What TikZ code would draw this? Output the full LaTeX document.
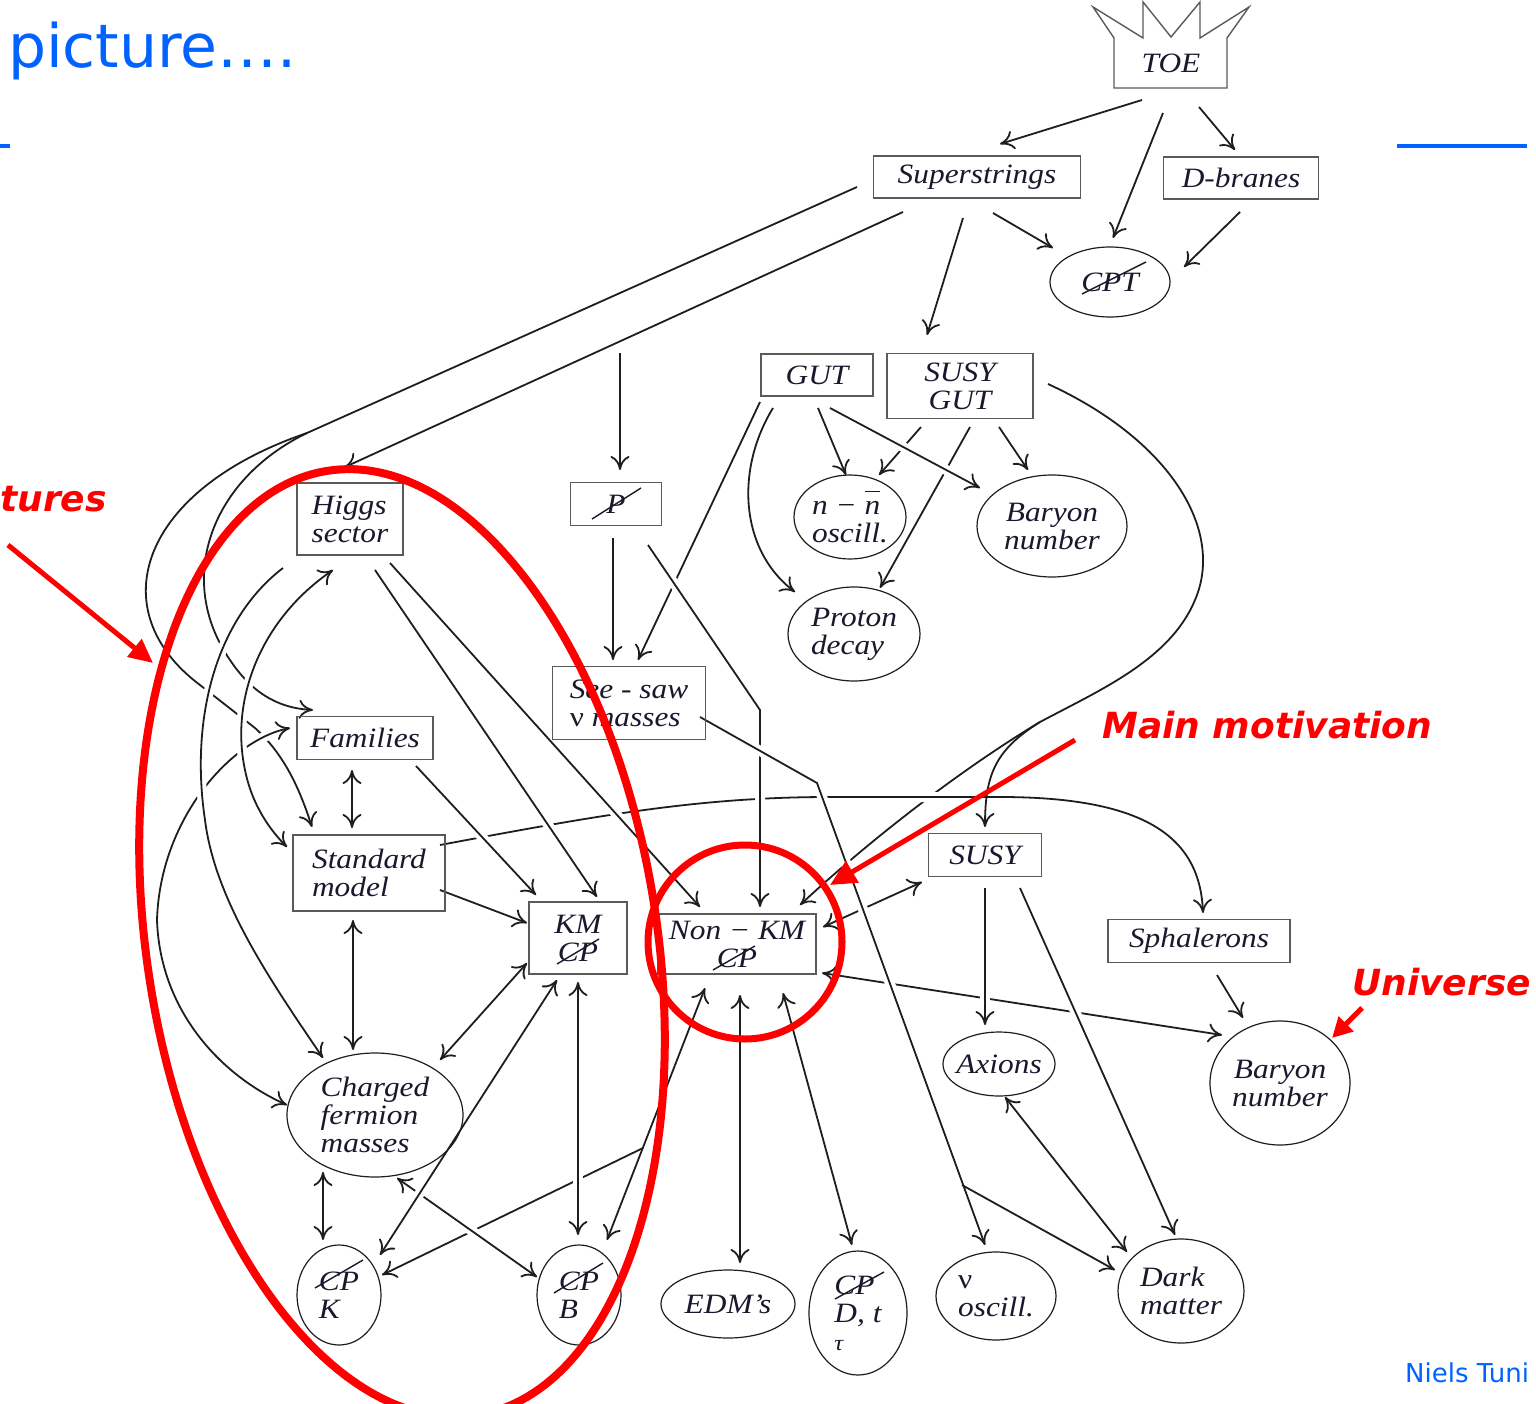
\documentclass[tikz,border=0pt]{standalone}
\usepackage{fontspec}
\usepackage{graphicx}
\newfontfamily\diag{Liberation Serif}[FakeStretch=1.12]
\newfontfamily\vsans{DejaVu Sans}
\usetikzlibrary{arrows.meta,shapes.geometric}
\pgfdeclarelayer{bg}
\pgfdeclarelayer{fg}
\pgfsetlayers{bg,main,fg}
\definecolor{bluec}{RGB}{0,98,255}
\definecolor{redc}{RGB}{255,0,0}
\definecolor{txtc}{RGB}{25,25,45}
\definecolor{boxc}{RGB}{90,90,90}
\definecolor{linec}{RGB}{30,30,30}
\newcommand\dfont{\diag\itshape\fontsize{28}{28}\selectfont}
\newcommand\nbar{\leavevmode\setbox0\hbox{n}\rlap{\raisebox{0.8em}{\rule{\wd0}{1.6pt}}}n}
\newcommand\nd[3]{([shift={(#2,#3)}]#1.center)}
\begin{document}
\begin{tikzpicture}[x=1pt,y=-1pt,
  lbl/.style={font=\dfont, text=txtc, align=left, inner sep=0pt},
  bx/.style={lbl, draw=boxc, line width=1.4pt, rectangle},
  el/.style={lbl, draw=linec, line width=1.2pt, ellipse, inner sep=-20pt},
  con/.style={draw=linec, line width=1.8pt},
  tip/.tip={Computer Modern Rightarrow[length=14pt,width=19pt]},
  arr/.style={con, -tip},
  darr/.style={con, tip-tip},
  hop/.style={preaction={draw=white, line width=10pt, -}},
  slash/.style={draw=txtc, line width=1.4pt},
  redt/.style={font=\vsans\bfseries\itshape\fontsize{36}{36}\selectfont, text=redc, inner sep=0pt, anchor=base west},
  bluet/.style={font=\vsans\fontsize{#1}{#1}\selectfont, text=bluec, inner sep=0pt, anchor=base west},
]
\useasboundingbox (0,0) rectangle (1536,1404);
\begin{pgfonlayer}{bg}
\fill[white] (0,0) rectangle (1536,1404);
\end{pgfonlayer}

% ---------- nodes ----------
\node[lbl] (toe) at (1171,63) {TOE};
\draw[draw=boxc, line width=1.4pt] (1114,88) -- (1114,38) -- (1093,7) -- (1143,38) -- (1143,2) -- (1171,37) -- (1200,2) -- (1200,38) -- (1249,7) -- (1227,38) -- (1227,88) -- cycle;
\node[bx, minimum width=207, minimum height=42] (ss) at (977,177) {Superstrings};
\node[bx, minimum width=155, minimum height=42] (db) at (1241,178) {D-branes};
\node[el, minimum width=120, minimum height=70] (cpt) at (1110,282) {CPT};
\node[bx, minimum width=112, minimum height=42] (gut) at (817,375) {GUT};
\node[bx, align=center, minimum width=146, minimum height=65] (sgut) at (960,386) {SUSY\\GUT};
\node[el, minimum width=112, minimum height=84] (nn) at (850,517) {n − \nbar\\oscill.};
\node[el, align=center, minimum width=150, minimum height=102] (bar1) at (1052,526) {Baryon\\number};
\node[el, minimum width=132, minimum height=94] (prot) at (854,634) {Proton\\decay};
\node[bx, minimum width=91, minimum height=43] (pslash) at (616,504) {P};
\node[bx, minimum width=153, minimum height=73] (seesaw) at (629,703) {See - saw\\{\upshape ν} masses};
\node[bx, minimum width=106, minimum height=72] (higgs) at (350,519) {Higgs\\sector};
\node[bx, minimum width=136, minimum height=43] (fam) at (365,738) {Families};
\node[bx, minimum width=152, minimum height=76] (sm) at (369,873) {Standard\\model};
\node[bx, align=center, minimum width=98, minimum height=72] (km) at (578,938) {KM\\CP};
\node[bx, align=center, minimum width=158, minimum height=60] (nonkm) at (737,944) {Non − KM\\CP};
\node[bx, minimum width=113, minimum height=43] (susy) at (985,855) {SUSY};
\node[bx, minimum width=182, minimum height=43] (sphal) at (1199,941) {Sphalerons};
\node[el, minimum width=176, minimum height=124] (cfm) at (375,1115) {Charged\\fermion\\masses};
\node[el, minimum width=84, minimum height=100] (cpk) at (339,1295) {CP\\K};
\node[el, minimum width=84, minimum height=100] (cpb) at (579,1295) {CP\\B};
\node[el, minimum width=134, minimum height=68] (edm) at (728,1304) {EDM’s};
\node[el, minimum width=98, minimum height=124] (cpd) at (858,1313) {CP\\D, t\\{\fontsize{22}{22}\selectfont τ}};
\node[el, minimum width=120, minimum height=88] (nuosc) at (996,1296) {{\upshape ν}\\oscill.};
\node[el, minimum width=126, minimum height=104] (dm) at (1181,1291) {Dark\\matter};
\node[el, minimum width=112, minimum height=64] (ax) at (999,1064) {Axions};
\node[el, align=center, minimum width=140, minimum height=124] (bar2) at (1280,1083) {Baryon\\number};

% slashes through CP / P
\draw[slash] \nd{cpt}{-28}{12} -- \nd{cpt}{36}{-20};
\draw[slash] \nd{pslash}{-24}{15} -- \nd{pslash}{25}{-16};
\draw[slash] \nd{km}{-21}{26} -- \nd{km}{21}{1};
\draw[slash] \nd{nonkm}{-24}{26} -- \nd{nonkm}{18}{2};
\draw[slash] \nd{cpk}{-24}{-7} -- \nd{cpk}{24}{-35};
\draw[slash] \nd{cpb}{-25}{-2} -- \nd{cpb}{24}{-32};
\draw[slash] \nd{cpd}{-23}{-14} -- \nd{cpd}{26}{-41};

% ---------- connectors ----------
\begin{pgfonlayer}{bg}
% SUSY GUT big curve
\draw[con] \nd{sgut}{88}{-2} .. controls (1170,440) and (1225,530) .. (1195,600) .. controls (1170,660) and (1100,690) .. (1040,722) coordinate (j1);
\draw[arr] (j1) .. controls (960,770) and (870,840) .. \nd{nonkm}{63}{-39};
\draw[darr] \nd{nonkm}{85}{29} -- \nd{bar2}{-58}{-48};
\draw[arr, hop] \nd{sm}{71}{-28} .. controls (600,815) and (700,797) .. (830,797) -- (1000,797) .. controls (1150,797) and (1200,840) .. \nd{sphal}{4}{-28};
\draw[arr] (j1) .. controls (995,750) and (985,775) .. \nd{susy}{0}{-28};
% top
\draw[arr] \nd{toe}{-29}{37} -- \nd{ss}{23}{-33};
\draw[arr] \nd{toe}{-8}{50} -- \nd{cpt}{3}{-44};
\draw[arr] \nd{toe}{28}{44} -- \nd{db}{-6}{-28};
\draw[arr] \nd{ss}{16}{36} -- \nd{cpt}{-57}{-34};
\draw[arr] \nd{db}{-1}{34} -- \nd{cpt}{74}{-15};
\draw[arr] \nd{ss}{-14}{41} -- \nd{sgut}{-33}{-51};
\draw[arr] \nd{ss}{-74}{35} -- \nd{higgs}{-5}{-52};
% long left branches
\draw[con] \nd{ss}{-120}{10} -- (307,433) coordinate (j0);
\draw[arr] (j0) .. controls (140,490) and (100,610) .. (200,685) -- (255,728) .. controls (285,755) and (300,790) .. \nd{sm}{-57}{-46};
\draw[arr] (j0) .. controls (210,480) and (175,580) .. (230,660) .. controls (250,690) and (275,708) .. \nd{fam}{-52}{-28};
\draw[darr, hop] \nd{fam}{-75}{-10} .. controls (230,740) and (160,820) .. (157,920) .. controls (160,1010) and (220,1075) .. \nd{cfm}{-88}{-10};
\draw[arr, hop] \nd{higgs}{-67}{49} .. controls (215,620) and (190,720) .. (205,820) .. controls (215,900) and (270,980) .. \nd{cfm}{-52}{-57};
\draw[darr, hop] \nd{higgs}{-17}{51} .. controls (260,620) and (230,700) .. (245,770) .. controls (252,805) and (270,830) .. \nd{sm}{-82}{-26};
% GUT area
\draw[arr] \nd{sgut}{-39}{41} -- \nd{nn}{29}{-42};
\draw[arr] \nd{sgut}{10}{41} -- \nd{prot}{26}{-46};
\draw[arr, hop] \nd{gut}{13}{33} -- \nd{bar1}{-72}{-38};
\draw[arr] \nd{gut}{1}{33} -- \nd{nn}{-4}{-42};
\draw[arr] \nd{sgut}{39}{41} -- \nd{bar1}{-24}{-56};
\draw[arr] \nd{gut}{-44}{33} .. controls (735,470) and (740,550) .. \nd{prot}{-59}{-42};
\draw[arr] \nd{gut}{-57}{27} -- \nd{seesaw}{9}{-43};
\coordinate (ptop) at (620,353);
\draw[arr] (ptop) -- \nd{pslash}{4}{-34};
\draw[arr] \nd{pslash}{-3}{34} -- \nd{seesaw}{-16}{-43};
\draw[arr, hop] \nd{pslash}{32}{41} -- (760,710) -- \nd{nonkm}{23}{-37};
% Higgs, families, SM
\draw[arr, hop] \nd{higgs}{40}{44} -- \nd{nonkm}{-37}{-37};
\draw[arr, hop] \nd{higgs}{25}{51} -- \nd{km}{19}{-41};
\draw[arr, hop] \nd{fam}{51}{28} -- \nd{km}{-42}{-43};
\draw[darr] \nd{fam}{-13}{32} -- \nd{sm}{-17}{-45};
\draw[arr] \nd{sm}{71}{17} -- \nd{km}{-51}{-15};
\draw[darr] \nd{sm}{-16}{47} -- \nd{cfm}{-22}{-65};
\draw[darr] \nd{km}{-51}{25} -- \nd{cfm}{65}{-55};
% SUSY
\draw[darr] \nd{susy}{-63}{27} -- \nd{nonkm}{86}{-17};
\draw[arr, hop] \nd{susy}{0}{33} -- \nd{ax}{-14}{-39};
\draw[arr, hop] \nd{susy}{35}{33} -- \nd{dm}{-6}{-56};
\draw[arr] \nd{sphal}{18}{34} -- \nd{bar2}{-37}{-65};
\draw[darr] \nd{ax}{6}{33} -- \nd{dm}{-54}{-39};
% see-saw
\draw[arr, hop] \nd{seesaw}{71}{14} -- (817,783) -- \nd{nuosc}{-11}{-51};
\coordinate (j2) at (962,1185);
\draw[arr] (j2) -- \nd{dm}{-66}{-21};
% non-KM bottom
\draw[darr] \nd{nonkm}{3}{51} -- \nd{edm}{12}{-41};
\draw[darr] \nd{nonkm}{46}{49} -- \nd{cpd}{-6}{-68};
\draw[darr] \nd{nonkm}{-32}{44} -- \nd{cpb}{28}{-55};
\coordinate (j3) at (643,1148);
\draw[arr] (j3) -- \nd{cpk}{43}{-20};
\draw[darr, hop] \nd{cfm}{22}{63} -- \nd{cpb}{-42}{-18};
\draw[darr, hop] \nd{km}{-21}{42} -- \nd{cpk}{41}{-40};
\draw[darr, hop] \nd{km}{0}{44} -- \nd{cpb}{-1}{-60};
\draw[darr] \nd{cfm}{-52}{57} -- \nd{cpk}{-16}{-55};
\end{pgfonlayer}

% ---------- slide overlay ----------
\begin{pgfonlayer}{fg}
\node[bluet=60] (title) at (8,68) {picture….};
\draw[bluec, line width=4pt] (0,146) -- (10,146);
\draw[bluec, line width=4pt] (1397,146) -- (1527,146);
\node[bluet=26] (author) at (1405,1382) {Niels Tuni};
\node[redt] (tures) at (0,511) {tures};
\node[redt] (mm) at (1102,738) {Main motivation};
\node[redt] (univ) at (1352,995) {Universe};
\draw[redc, line width=8pt, rotate around={9:(402,943)}] (402,943) ellipse [x radius=255, y radius=478];
\draw[redc, line width=7pt] (745,942) circle [radius=97];
\coordinate (t1) at (153,663);
\coordinate (t2) at (830,885);
\coordinate (t3) at (1332,1038);
\draw[redc, line width=5pt, -{Triangle[length=24pt,width=22pt]}] ([shift={(8,34)}]tures.base west) -- (t1);
\draw[redc, line width=5pt, -{Triangle[length=26pt,width=24pt]}] ([shift={(-27,2)}]mm.base west) -- (t2);
\draw[redc, line width=5pt, -{Triangle[length=20pt,width=20pt]}] ([shift={(10,13)}]univ.base west) -- (t3);
\end{pgfonlayer}
\end{tikzpicture}
\end{document}
